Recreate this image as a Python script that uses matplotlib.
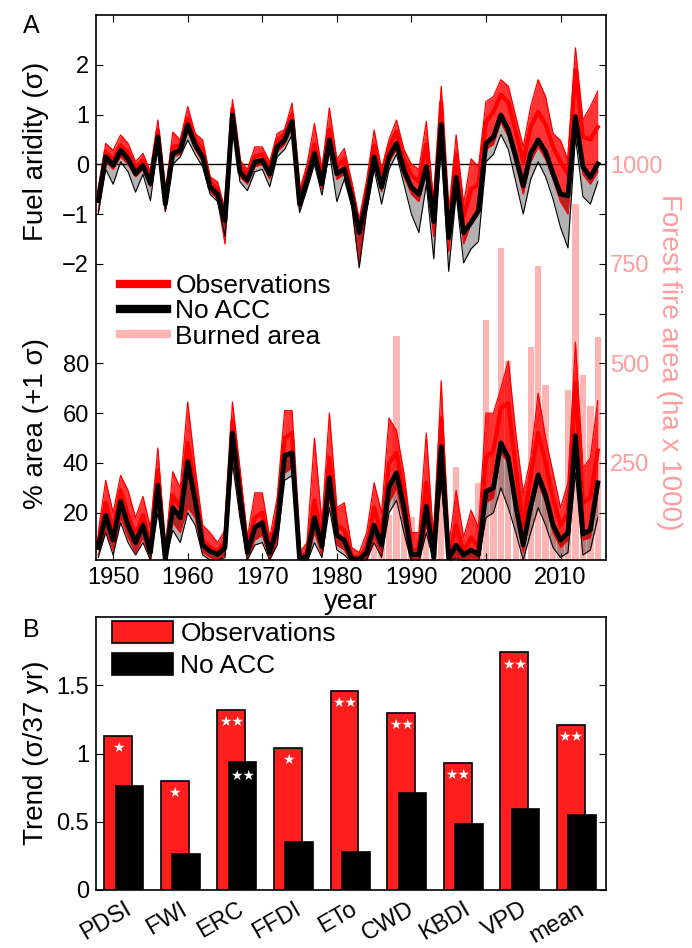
import numpy as np
import matplotlib
matplotlib.use("Agg")
import matplotlib.pyplot as plt
from matplotlib.lines import Line2D
from matplotlib.patches import Patch

plt.rcParams['font.family'] = ['Liberation Sans', 'DejaVu Sans']

# ---- data: panel A (1948-2015) ----
years = np.arange(1948, 2016)

# fuel aridity (sigma), thick lines = mean of indices, lo/hi = spread of the thin lines
fuel_noacc = [-0.73, 0.15, -0.02, 0.28, 0.11, -0.19, -0.02, -0.39, 0.55, -0.80,
              0.22, 0.28, 0.79, 0.39, 0.15, -0.46, -0.60, -1.13, 0.99, -0.16,
              -0.32, 0.05, 0.08, -0.20, 0.35, 0.49, 0.86, -0.80, -0.32, 0.22,
              -0.39, 0.49, -0.19, -0.09, -0.66, -1.37, -0.73, 0.15, -0.46, 0.15,
              0.42, -0.12, -0.46, -0.60, -0.05, -1.15, 0.80, -1.47, -0.26, -1.37,
              -1.17, -0.93, 0.42, 0.55, 0.99, 0.69, 0.15, -0.43, 0.22, 0.49,
              0.25, -0.19, -0.60, -0.63, 0.96, -0.05, -0.26, 0.01]
fuel_noacc_lo = [-1.00, -0.10, -0.40, 0.05, -0.15, -0.56, -0.20, -0.73, 0.40, -0.95,
                 0.00, 0.15, 0.49, 0.20, -0.05, -0.60, -0.75, -1.45, 0.80, -0.35,
                 -0.53, -0.15, -0.10, -0.45, 0.15, 0.30, 0.60, -0.97, -0.50, 0.00,
                 -0.62, 0.25, -0.75, -0.30, -0.85, -2.08, -0.95, -0.10, -0.80, -0.10,
                 0.20, -0.40, -1.00, -1.37, -0.40, -1.90, 0.45, -2.15, -0.60, -1.98,
                 -1.70, -1.55, 0.05, 0.20, 0.60, 0.30, -0.35, -1.00, -0.30, 0.05,
                 -0.25, -0.70, -1.27, -1.68, 0.55, -0.65, -0.80, -0.35]
fuel_obs = [-0.65, 0.25, 0.08, 0.38, 0.22, -0.08, 0.08, -0.28, 0.68, -0.72,
            0.35, 0.38, 0.92, 0.50, 0.28, -0.36, -0.50, -1.15, 1.12, -0.05,
            -0.22, 0.16, 0.20, -0.10, 0.48, 0.60, 1.00, -0.66, -0.18, 0.40,
            -0.25, 0.70, -0.05, 0.10, -0.50, -1.30, -0.55, 0.38, -0.25, 0.35,
            0.65, 0.10, -0.22, -0.35, 0.40, -1.05, 1.25, -1.30, 0.20, -1.05,
            -0.50, -0.40, 0.85, 1.05, 1.40, 1.25, 0.65, 0.05, 0.75, 1.05,
            0.80, 0.35, 0.05, -0.20, 1.90, 0.55, 0.50, 0.75]
fuel_obs_hi = [-0.55, 0.42, 0.28, 0.59, 0.42, 0.05, 0.22, -0.15, 0.89, -0.60,
               0.65, 0.49, 1.16, 0.62, 0.49, -0.25, -0.35, -0.90, 1.30, 0.08,
               -0.10, 0.35, 0.35, 0.05, 0.62, 0.70, 1.23, -0.53, 0.00, 0.82,
               -0.10, 1.13, 0.10, 0.32, -0.35, -1.10, -0.32, 0.69, -0.10, 0.50,
               0.89, 0.30, 0.00, -0.10, 0.86, -0.80, 1.57, -1.00, 0.59, -0.80,
               0.11, -0.05, 1.26, 1.36, 1.70, 1.57, 0.96, 0.35, 1.16, 1.70,
               1.36, 0.62, 0.48, 0.08, 2.34, 0.89, 1.16, 1.47]
fuel_obs_lo = [-0.95, 0.05, -0.10, 0.15, 0.00, -0.25, -0.10, -0.45, 0.45, -0.95,
               0.15, 0.20, 0.65, 0.30, 0.05, -0.55, -0.70, -1.60, 0.85, -0.25,
               -0.40, -0.05, 0.00, -0.30, 0.25, 0.40, 0.75, -0.90, -0.40, 0.10,
               -0.50, 0.35, -0.30, -0.20, -0.80, -2.00, -0.85, 0.05, -0.55, 0.05,
               0.30, -0.25, -0.60, -0.75, -0.20, -1.45, 0.60, -1.75, -0.40, -1.60,
               -1.20, -1.00, 0.30, 0.40, 0.85, 0.55, 0.00, -0.60, 0.05, 0.35,
               0.10, -0.30, -0.75, -1.00, 0.80, -0.20, -0.40, -0.15]

# % area above +1 sigma
area_noacc = [6, 19, 9, 24.5, 15, 8, 15, 4, 31, 1.2,
              22, 18, 40.5, 25, 7, 4.5, 3.2, 6, 52, 27,
              4, 14, 16, 4, 14, 43, 44, 1.5, 2.5, 18,
              6.5, 34, 11, 9, 1.5, 1.2, 4, 15, 7, 30.5,
              36, 22, 3.2, 3.2, 22.5, 2, 46.5, 1.5, 7, 3,
              5, 3.2, 28.5, 30, 48, 42, 23, 7, 22.5, 35.2,
              27, 15, 9, 12, 51, 11.5, 13, 32]
area_noacc_lo = [2, 12, 3, 16, 8, 3, 8, 1, 20, 0,
                 13, 8, 20, 15, 3, 1, 1, 2, 40, 18,
                 1, 7, 8, 1, 7, 33, 35, 0, 0, 8,
                 2, 22, 5, 3, 0, 0, 1, 8, 2, 20,
                 25, 12, 0, 0, 12, 0, 32, 0, 2, 0,
                 1, 0, 18, 20, 30, 22, 12, 1, 12, 22,
                 15, 6, 2, 4, 36, 3, 5, 18]
area_obs = [8, 24, 13, 29, 19, 11, 19, 7, 37, 2,
            27, 22, 48, 30, 9, 6, 4.5, 8, 57, 31,
            6, 18, 20, 6, 18, 50, 52, 2, 4, 25,
            9, 42, 15, 13, 2.5, 2, 6, 22, 11, 40,
            44, 28, 5, 5, 32, 3, 58, 2.5, 15, 4.5,
            10, 6, 42, 45, 62, 64, 38, 15, 35, 52,
            40, 26, 15, 20, 72, 24, 26, 45]
area_obs_hi = [12, 33, 20, 35, 29, 18, 26.5, 14, 46, 5,
               36.5, 30, 64.5, 38, 15, 12, 8, 13, 64.5, 38,
               10, 28, 28, 10, 26, 61, 61, 4, 8, 50,
               16, 60, 22, 24, 6, 4, 12, 32, 20, 58,
               53, 36, 12, 12, 52, 8, 73, 6, 29, 10,
               21, 14, 60, 60, 70, 81, 52, 28, 42, 68,
               50, 36, 22, 32, 88.5, 38, 42, 65]
area_obs_lo = [3, 13, 5, 18, 10, 4, 10, 1, 24, 0,
               16, 12, 22, 18, 4, 2, 1, 3, 44, 20,
               1, 9, 11, 1, 9, 36, 38, 0, 0, 12,
               3, 26, 7, 5, 0, 0, 1, 10, 3, 24,
               30, 16, 1, 1, 15, 0, 38, 0, 3, 0,
               2, 1, 24, 26, 44, 40, 20, 4, 20, 32,
               24, 12, 6, 9, 46, 9, 10, 28]

# forest fire area (ha x 1000)
fire_years = np.arange(1984, 2016)
fire_area = [40, 60, 50, 120, 570, 115, 115, 60, 70, 40,
             240, 40, 240, 30, 60, 200, 610, 280, 790, 505,
             215, 180, 540, 745, 447, 160, 100, 434, 900, 470,
             393, 567]

# ---- data: panel B ----
indices = ['PDSI', 'FWI', 'ERC', 'FFDI', 'ETo', 'CWD', 'KBDI', 'VPD', 'mean']
trend_obs = [1.13, 0.80, 1.32, 1.04, 1.46, 1.30, 0.93, 1.74, 1.21]
trend_noacc = [0.765, 0.265, 0.935, 0.355, 0.28, 0.71, 0.485, 0.595, 0.55]
sig_obs = ['*', '*', '**', '*', '**', '**', '**', '**', '**']
sig_noacc = ['', '', '**', '', '', '', '', '', '']

RED = '#ff0000'
BAR_RED = '#ff1e1e'
PINK = '#ffb4b4'
PINK_TXT = '#ff9c9c'
TICK_FS = 17
LAB_FS = 20

fig = plt.figure(figsize=(6.92, 9.48), dpi=100)

# ---- panel A: three overlaid axes (fire bars / % area / fuel aridity) ----
rect_a = [96 / 692, 1 - 560 / 948, 510 / 692, 545 / 948]
ax_area = fig.add_axes(rect_a)
ax_fire = ax_area.twinx()
ax_fuel = fig.add_axes(rect_a)
ax_fire.set_zorder(1)
ax_area.set_zorder(2)
ax_fuel.set_zorder(3)
ax_area.patch.set_visible(False)
ax_fuel.patch.set_visible(False)

ax_fire.bar(fire_years, fire_area, width=0.85, color=PINK, linewidth=0)

ax_area.fill_between(years, area_obs_lo, area_obs_hi, color=RED, alpha=0.8, lw=0)
ax_area.plot(years, area_obs_hi, color=RED, lw=0.9)
ax_area.plot(years, area_obs_lo, color=RED, lw=0.9)
ax_area.plot(years, area_obs, color=RED, lw=3)
ax_area.fill_between(years, area_noacc_lo, area_noacc, color='k', alpha=0.3, lw=0)
ax_area.plot(years, area_noacc_lo, color='k', lw=0.8)
ax_area.plot(years, area_noacc, color='k', lw=3.5)

ax_fuel.axhline(0, color='k', lw=1.0, zorder=0)
ax_fuel.fill_between(years, fuel_obs_lo, fuel_obs_hi, color=RED, alpha=0.8, lw=0)
ax_fuel.plot(years, fuel_obs_hi, color=RED, lw=0.9)
ax_fuel.plot(years, fuel_obs_lo, color=RED, lw=0.9)
ax_fuel.plot(years, fuel_obs, color=RED, lw=3)
ax_fuel.fill_between(years, fuel_noacc_lo, fuel_noacc, color='k', alpha=0.3, lw=0)
ax_fuel.plot(years, fuel_noacc_lo, color='k', lw=0.8)
ax_fuel.plot(years, fuel_noacc, color='k', lw=3.5)

for a in (ax_area, ax_fire, ax_fuel):
    a.set_xlim(1947.7, 2016.1)
ax_area.set_ylim(1, 220)
ax_fuel.set_ylim(-7.95, 3.0)
ax_fire.set_ylim(6.25, 1375)

ax_area.set_xticks([1950, 1960, 1970, 1980, 1990, 2000, 2010])
ax_area.tick_params(axis='x', direction='in', top=True, bottom=True, length=5,
                    labelsize=TICK_FS, pad=5)
ax_area.set_yticks([20, 40, 60, 80])
ax_area.tick_params(axis='y', direction='in', left=True, right=False, length=5,
                    labelsize=TICK_FS, pad=5)
ax_fuel.set_yticks([-2, -1, 0, 1, 2])
ax_fuel.tick_params(axis='y', direction='in', left=True, right=False, length=5,
                    labelsize=TICK_FS, pad=5)
ax_fuel.tick_params(axis='x', bottom=False, top=False, labelbottom=False)
ax_fire.set_yticks([125, 250, 375, 500, 625, 750, 875, 1000, 1125, 1250])
ax_fire.set_yticklabels(['', '250', '', '500', '', '750', '', '1000', '', ''])
ax_fire.tick_params(axis='y', direction='in', length=5, labelsize=TICK_FS,
                    labelcolor=PINK_TXT, pad=3)
for s in ax_fuel.spines.values():
    s.set_visible(False)
for s in ax_fire.spines.values():
    s.set_visible(False)
for s in ax_area.spines.values():
    s.set_linewidth(1.2)

ax_area.text(-0.118, 0.749, 'Fuel aridity (σ)', transform=ax_area.transAxes,
             rotation=90, ha='center', va='center', fontsize=LAB_FS)
ax_area.text(-0.118, 0.251, '% area (+1 σ)', transform=ax_area.transAxes,
             rotation=90, ha='center', va='center', fontsize=LAB_FS)
ax_area.text(1.1235, 0.363, 'Forest fire area (ha x 1000)', transform=ax_area.transAxes,
             rotation=270, ha='center', va='center', fontsize=LAB_FS, color=PINK_TXT)
ax_area.text(0.5, -0.077, 'year', transform=ax_area.transAxes,
             ha='center', va='center', fontsize=LAB_FS)

leg_a = [Line2D([], [], color=RED, lw=6), Line2D([], [], color='k', lw=6),
         Line2D([], [], color=PINK, lw=6)]
ax_fuel.legend(leg_a, ['Observations', 'No ACC', 'Burned area'], loc='upper left',
               bbox_to_anchor=(0.047, 0.525), frameon=False, borderpad=0,
               borderaxespad=0, handlelength=1.8, handletextpad=0.3,
               labelspacing=0.05, fontsize=19)

fig.text(23 / 692, 1 - 33 / 948, 'A', fontsize=18, va='baseline')

# ---- panel B: trends ----
ax_b = fig.add_axes([96 / 692, 1 - 890 / 948, 510 / 692, 273 / 948])
x = np.arange(len(indices))
ax_b.bar(x - 0.1, trend_obs, width=0.49, color=BAR_RED, edgecolor='k', lw=1.2)
ax_b.bar(x + 0.1, trend_noacc, width=0.49, color='k', edgecolor='k', lw=1.2)
for i in range(len(indices)):
    if sig_obs[i]:
        ax_b.text(x[i] - 0.1, trend_obs[i] - 0.09, '★' * len(sig_obs[i]),
                  color='white', ha='center', va='center', fontsize=10,
                  family='DejaVu Sans')
    if sig_noacc[i]:
        ax_b.text(x[i] + 0.1, trend_noacc[i] - 0.1, '★' * len(sig_noacc[i]),
                  color='white', ha='center', va='center', fontsize=10,
                  family='DejaVu Sans')
ax_b.set_xlim(-0.49, 8.52)
ax_b.set_ylim(0, 2)
ax_b.set_yticks([0, 0.5, 1, 1.5])
ax_b.set_yticklabels(['0', '0.5', '1', '1.5'])
ax_b.tick_params(axis='y', direction='in', left=True, right=True, length=5,
                 labelsize=TICK_FS, pad=5)
ax_b.set_xticks(x)
ax_b.set_xticklabels(indices, rotation=30, ha='right', rotation_mode='anchor')
ax_b.tick_params(axis='x', length=0, labelsize=TICK_FS, pad=6)
for s in ax_b.spines.values():
    s.set_linewidth(1.2)
ax_b.text(-0.118, 0.502, 'Trend (σ/37 yr)', transform=ax_b.transAxes,
          rotation=90, ha='center', va='center', fontsize=LAB_FS)
leg_b = [Patch(facecolor=BAR_RED, edgecolor='k', lw=1.2),
         Patch(facecolor='k', edgecolor='k', lw=1.2)]
ax_b.legend(leg_b, ['Observations', 'No ACC'], loc='upper left',
            bbox_to_anchor=(0.031, 0.985), frameon=False, borderpad=0,
            borderaxespad=0, handlelength=2.3, handleheight=0.9,
            handletextpad=0.3, labelspacing=0.27, fontsize=19)
fig.text(23 / 692, 1 - 637 / 948, 'B', fontsize=18, va='baseline')

fig.savefig('out.png', dpi=100)
